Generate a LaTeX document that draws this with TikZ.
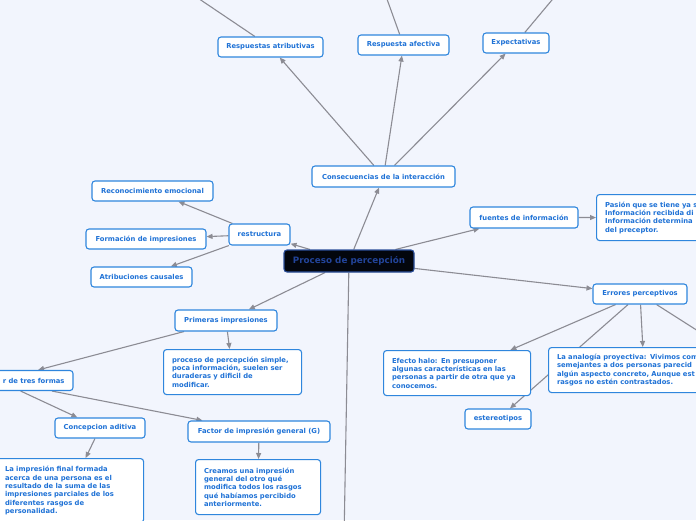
\documentclass[tikz,border=0pt]{standalone}
\usepackage{fontspec}
\setsansfont{DejaVu Sans}
\usetikzlibrary{arrows.meta,positioning,backgrounds}
\definecolor{paper}{HTML}{F2F5FD}
\definecolor{edge}{HTML}{8C8C94}
\definecolor{frame}{HTML}{2F86DD}
\definecolor{label}{HTML}{1F72D6}
\definecolor{coal}{HTML}{03060D}
\definecolor{navy}{HTML}{22449A}
\definecolor{navyline}{HTML}{2B4F9A}

\begin{document}
\begin{tikzpicture}[x=1pt,y=-1pt,
  topic/.style={draw=frame,fill=white,line width=1.1pt,rounded corners=3pt,text=label,
    font=\sffamily\bfseries\fontsize{6.8}{8.3}\selectfont,minimum height=20pt,inner sep=0pt},
  note/.style={topic,anchor=north west,align=left,inner xsep=8.5pt,inner ysep=0pt},
  core/.style={topic,fill=coal,draw=navyline,text=navy,
    font=\sffamily\bfseries\fontsize{8.8}{9}\selectfont,minimum height=22pt},
  link/.style={draw=edge,line width=1.1pt,-{Triangle[length=6pt,width=5pt]}},
  stub/.style={draw=edge,line width=1.1pt}]
  \useasboundingbox (0,0) rectangle (696,520);
  \clip (0,0) rectangle (696,520);

  \node[core,minimum width=130pt] (proceso) at (349,261) {Proceso de percepción};

  \node[topic,minimum width=143pt,minimum height=21pt] (conseq) at (383.5,176.5) {Consecuencias de la interacción};
  \node[topic,minimum width=105pt] (atrib) at (270.5,47) {Respuestas atributivas};
  \node[topic,minimum width=91pt] (afect) at (403.5,45) {Respuesta afectiva};
  \node[topic,minimum width=66pt] (expect) at (516,43) {Expectativas};

  \node[topic,minimum width=61pt,minimum height=21pt] (restr) at (259.5,234.5) {restructura};
  \node[topic,minimum width=121pt] (recon) at (152.5,191) {Reconocimiento emocional};
  \node[topic,minimum width=120pt] (formac) at (146,239) {Formación de impresiones};
  \node[topic,minimum width=101pt] (atribc) at (141.5,277) {Atribuciones causales};

  \node[topic,minimum width=102pt,minimum height=21pt] (primeras) at (226,320.5) {Primeras impresiones};
  \node[note,text width=121pt,minimum height=45pt] (simple) at (163,349)
    {proceso de percepción simple,\\poca información, suelen ser\\duraderas y dificil de\\modificar.};
  \node[topic,text width=133pt,align=right,inner xsep=8.5pt] (tres) at (-2,380.5) {r de tres formas};
  \node[topic,minimum width=90pt] (concep) at (100,428) {Concepcion aditiva};
  \node[topic,minimum width=142pt,minimum height=21pt] (factor) at (259,431.5) {Factor de impresión general (G)};
  \node[note,text width=130pt,minimum height=64pt] (final) at (-4,458)
    {La impresión final formada\\acerca de una persona es el\\resultado de la suma de las\\impresiones parciales de los\\diferentes rasgos de\\personalidad.};
  \node[note,text width=108pt,minimum height=55pt] (creamos) at (195,459)
    {Creamos una impresión\\general del otro qué\\modifica todos los rasgos\\qué habíamos percibido\\anteriormente.};

  \node[topic,minimum width=108pt,minimum height=21pt] (fuentes) at (524,217.5) {fuentes de información};
  \node[note,text width=150pt,minimum height=46pt] (pasion) at (596,194)
    {Pasión que se tiene ya s\\Información recibida di\\Información determina\\del preceptor.};

  \node[topic,minimum width=94pt] (errores) at (640,294) {Errores perceptivos};
  \node[note,text width=130pt,minimum height=45pt] (halo) at (383,350)
    {Efecto halo: En presuponer\\algunas características en las\\personas a partir de otra que ya\\conocemos.};
  \node[note,text width=174pt,minimum height=45pt] (analog) at (548,347)
    {La analogía proyectiva: Vivimos com\\semejantes a dos personas parecid\\algún aspecto concreto, Aunque est\\rasgos no estén contrastados.};
  \node[topic,minimum width=66pt] (estereo) at (498,419) {estereotipos};

  \coordinate (atribout) at (180,-14);
  \coordinate (afectout) at (383,-12);
  \coordinate (expectout) at (562,-12);
  \coordinate (erroresout) at (720,345);
  \coordinate (procesout) at (344,540);

  \begin{scope}[on background layer]
    \clip (0,0) rectangle (696,520);
    \fill[paper] (0,0) rectangle (696,520);
    \foreach \a/\b in {proceso/conseq,conseq/atrib,conseq/afect,conseq/expect,
      proceso/restr,restr/recon,restr/formac,restr/atribc,
      proceso/primeras,primeras/tres,primeras/simple,tres/concep,tres/factor,
      concep/final,factor/creamos,proceso/fuentes,fuentes/pasion,
      proceso/errores,errores/halo,errores/estereo,errores/analog}
      \draw[link] (\a) -- (\b);
    \foreach \a/\b in {atrib/atribout,afect/afectout,expect/expectout,
      errores/erroresout,proceso/procesout}
      \draw[stub] (\a) -- (\b);
  \end{scope}
\end{tikzpicture}
\end{document}
